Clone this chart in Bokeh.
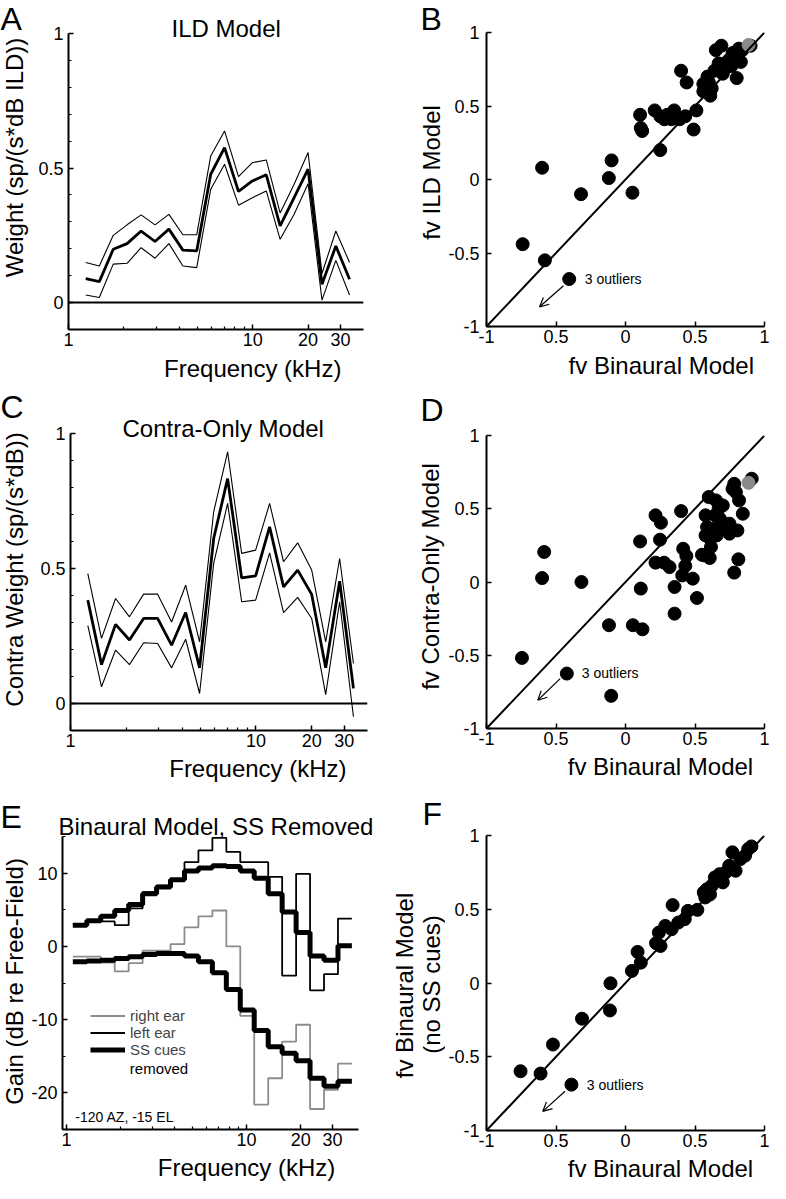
import math
from bokeh.plotting import figure
from bokeh.layouts import column, row
from bokeh.models import (Range1d, FixedTicker, Label, Span, Slope, Arrow, OpenHead,
                          Legend, LegendItem, CustomJSTickFormatter)
from bokeh.embed import file_html
from bokeh.resources import INLINE

FONT = "Liberation Sans"

# ---------------- data ----------------
freq_khz = [1.24, 1.47, 1.75, 2.08, 2.48, 2.95, 3.51, 4.18, 4.97, 5.92,
            7.04, 8.38, 9.97, 11.86, 14.1, 16.8, 20.0, 23.8, 28.3, 33.6]

ild_mean = [0.089, 0.078, 0.198, 0.219, 0.266, 0.227, 0.273, 0.195, 0.192, 0.477,
            0.576, 0.413, 0.452, 0.475, 0.285, 0.39, 0.496, 0.068, 0.21, 0.087]
ild_upper = [0.149, 0.136, 0.25, 0.289, 0.326, 0.289, 0.328, 0.252, 0.252, 0.545,
             0.638, 0.468, 0.52, 0.53, 0.333, 0.44, 0.558, 0.108, 0.266, 0.149]
ild_lower = [0.028, 0.019, 0.143, 0.146, 0.204, 0.165, 0.219, 0.136, 0.13, 0.421,
             0.514, 0.362, 0.39, 0.415, 0.235, 0.328, 0.442, 0.009, 0.157, 0.028]

contra_mean = [0.383, 0.144, 0.293, 0.235, 0.315, 0.315, 0.216, 0.337, 0.132, 0.611,
               0.833, 0.465, 0.473, 0.654, 0.432, 0.494, 0.404, 0.132, 0.453, 0.056]
contra_upper = [0.481, 0.241, 0.389, 0.321, 0.405, 0.405, 0.302, 0.438, 0.228, 0.71,
                0.932, 0.556, 0.568, 0.741, 0.525, 0.595, 0.494, 0.228, 0.537, 0.148]
contra_lower = [0.288, 0.062, 0.198, 0.144, 0.225, 0.222, 0.132, 0.238, 0.037, 0.519,
                0.741, 0.377, 0.383, 0.558, 0.337, 0.393, 0.315, 0.033, 0.377, -0.049]

# panel E: bin edges (kHz) and gains (dB)
bin_edges_khz = [1.084, 1.296, 1.549, 1.852, 2.214, 2.646, 3.162, 3.78, 4.518, 5.40, 6.455,
                 7.716, 9.22, 11.02, 13.18, 15.75, 18.83, 22.5, 26.9, 32.15, 38.4]
left_ear_db = [3.0, 3.5, 3.4, 2.9, 5.2, 7.4, 8.3, 9.0, 11.5, 13.1,
               14.8, 12.9, 11.5, 11.5, 9.5, -4.0, 9.9, -6.0, -3.8, 3.8]
right_ear_db = [-1.4, -1.4, -2.2, -3.4, -2.3, -0.6, -0.6, 0.3, 2.6, 4.1,
                4.9, 0.0, -9.5, -21.6, -18.0, -13.0, -10.7, -22.2, -19.6, -16.0]
left_ss_removed_db = [2.9, 3.5, 4.1, 4.9, 5.7, 7.2, 8.1, 9.1, 10.3, 10.7,
                      11.0, 10.9, 10.3, 9.3, 7.2, 4.7, 1.9, -1.3, -1.9, 0.1]
right_ss_removed_db = [-2.1, -2.0, -1.9, -1.65, -1.4, -1.1, -0.96, -0.96, -1.3, -2.1,
                       -3.6, -5.9, -8.7, -11.5, -13.7, -14.6, -15.6, -18.0, -19.1, -18.4]

# panel B: fv binaural vs fv ILD
b_x = [-0.74, -0.58, -0.60, -0.32, -0.12, -0.10, 0.05, 0.105, 0.11, 0.12,
       0.21, 0.25, 0.30, 0.35, 0.33, 0.39, 0.43, 0.51, 0.49, 0.25,
       0.40, 0.44, 0.56, 0.59, 0.56, 0.61, 0.62, 0.65, 0.69, 0.67,
       0.70, 0.74, 0.77, 0.76, 0.80, 0.815, 0.83, 0.84, 0.60, 0.68,
       0.72, 0.78, 0.90, 0.36, 0.64, 0.28]
b_y = [-0.44, -0.55, 0.08, -0.10, 0.01, 0.13, -0.09, 0.44, 0.35, 0.33,
       0.47, 0.43, 0.44, 0.47, 0.41, 0.41, 0.43, 0.47, 0.34, 0.20,
       0.74, 0.66, 0.65, 0.70, 0.60, 0.57, 0.62, 0.88, 0.91, 0.79,
       0.72, 0.81, 0.86, 0.77, 0.69, 0.89, 0.80, 0.88, 0.66, 0.75,
       0.78, 0.83, 0.91, 0.42, 0.74, 0.41]
b_gray_x = [0.885]
b_gray_y = [0.915]

# panel D: fv binaural vs fv contra-only
d_x = [-0.745, -0.585, -0.60, -0.317, -0.119, -0.103, 0.053, 0.122, 0.11, 0.105,
       0.216, 0.255, 0.248, 0.216, 0.278, 0.317, 0.353, 0.353, 0.40, 0.415,
       0.438, 0.43, 0.408, 0.484, 0.514, 0.55, 0.599, 0.651, 0.70, 0.576,
       0.644, 0.679, 0.587, 0.633, 0.576, 0.61, 0.656, 0.564, 0.606, 0.615,
       0.748, 0.748, 0.805, 0.844, 0.782, 0.794, 0.817, 0.77, 0.908, 0.812,
       0.782, 0.725, 0.67, 0.68]
d_y = [-0.518, 0.205, 0.027, 0.0, -0.295, -0.777, -0.295, -0.323, -0.045, 0.277,
       0.455, 0.405, 0.289, 0.132, 0.132, 0.102, -0.034, -0.216, 0.484, 0.227,
       0.177, 0.11, 0.045, 0.023, -0.109, 0.186, 0.58, 0.557, 0.523, 0.455,
       0.455, 0.432, 0.375, 0.364, 0.318, 0.295, 0.318, 0.182, 0.164, 0.239,
       0.398, 0.33, 0.352, 0.466, 0.67, 0.614, 0.557, 0.636, 0.705, 0.155,
       0.064, 0.386, 0.50, 0.36]
d_gray_x = [0.885]
d_gray_y = [0.677]

# panel F: fv binaural vs fv binaural without SS cues
f_x = [-0.755, -0.611, -0.522, -0.313, -0.108, -0.112, 0.046, 0.087, 0.11, 0.24,
       0.252, 0.286, 0.339, 0.332, 0.38, 0.426, 0.449, 0.517, 0.563, 0.586,
       0.62, 0.643, 0.677, 0.70, 0.746, 0.769, 0.792, 0.826, 0.86, 0.883,
       0.906, 0.574, 0.608, 0.72, 0.22]
f_y = [-0.598, -0.614, -0.417, -0.242, -0.002, -0.186, 0.082, 0.211, 0.138, 0.342,
       0.251, 0.387, 0.528, 0.365, 0.41, 0.433, 0.489, 0.496, 0.614, 0.636,
       0.659, 0.716, 0.738, 0.682, 0.795, 0.886, 0.761, 0.84, 0.863, 0.908,
       0.926, 0.58, 0.60, 0.75, 0.27]

# "3 outliers" marker and arrow (start x, start y, end x, end y)
outlier_B = [-0.405, -0.677]
outlier_D = [-0.422, -0.625]
outlier_F = [-0.389, -0.689]
arrow_B = [-0.446, -0.723, -0.618, -0.866]
arrow_D = [-0.47, -0.66, -0.631, -0.807]
arrow_F = [-0.435, -0.734, -0.595, -0.87]

log_major = [1, 10, 20, 30]
log_minor = [2, 3, 4, 5, 6, 7, 8, 9]
fv_ticks = [-1, -0.5, 0, 0.5, 1]

HALF_PI = math.pi / 2
PANEL_W = 385
AX_BOTTOM = 24      # room under each frame for the tick labels
MID = 0.35          # caps centre above the baseline, in em


# ---------------- helpers ----------------
def make_fig(wl, hm, left, right, top, xr, yr, xlog=False):
    """Main axes figure; sits right of a text column of width wl."""
    w = PANEL_W - wl
    p = figure(width=w, height=hm, x_axis_type="log" if xlog else "linear",
               x_range=Range1d(*xr), y_range=Range1d(*yr),
               output_backend="svg", toolbar_location=None,
               min_border_left=left - wl, min_border_right=right,
               min_border_top=top, min_border_bottom=AX_BOTTOM)
    p.outline_line_color = None
    p.grid.visible = False
    p.background_fill_color = "white"
    p.border_fill_color = "white"
    for ax in (p.xaxis[0], p.yaxis[0]):
        ax.axis_line_width = 2
        ax.axis_line_color = "black"
        ax.major_tick_in = 5
        ax.major_tick_out = 0
        ax.minor_tick_in = 3
        ax.minor_tick_out = 0
        ax.major_tick_line_width = 1.5
        ax.minor_tick_line_width = 1.2
        ax.major_tick_line_color = "black"
        ax.minor_tick_line_color = "black"
        ax.major_label_text_font = FONT
        ax.major_label_text_font_size = "18px"
        ax.major_label_text_color = "black"
        ax.formatter = CustomJSTickFormatter(code="return String(tick);")
    p.xaxis.major_label_standoff = 3
    geom = (left, top, PANEL_W - left - right, hm - top - AX_BOTTOM, xr, yr, xlog)
    return p, geom


def text_fig(x0, y0, w, h, items):
    """Plain text area covering panel pixels [x0, x0+w] x [y0, y0+h] (y downward).
    items: (x, baseline, text, size, rotated, align)"""
    s = figure(width=w, height=h, x_range=Range1d(x0, x0 + w), y_range=Range1d(-(y0 + h), -y0),
               output_backend="svg", toolbar_location=None,
               x_axis_location=None, y_axis_location=None,
               min_border_left=0, min_border_right=0, min_border_top=0, min_border_bottom=0)
    s.outline_line_color = None
    s.grid.visible = False
    s.background_fill_color = "white"
    s.border_fill_color = "white"
    for (x, y, txt, size, rotated, align) in items:
        if rotated:
            x, angle = x - MID * size, HALF_PI
        else:
            y, angle = y - MID * size, 0.0
        s.add_layout(Label(x=x, y=-y, text=txt, text_font=FONT, text_font_size=f"{size}px",
                           text_align=align, text_baseline="middle", angle=angle,
                           text_color="black"))
    return s


def set_title(p, txt, offset, standoff):
    p.title.text = txt
    p.title.align = "left"
    p.title.offset = offset
    p.title.standoff = standoff
    p.title.text_font = FONT
    p.title.text_font_size = "24px"
    p.title.text_font_style = "normal"
    p.title.text_color = "black"


def to_data(g, fx, fy):
    left, top, fw, fh, xr, yr, xlog = g
    tx = (fx - left) / fw
    ty = (top + fh - fy) / fh
    if xlog:
        lx0, lx1 = math.log10(xr[0]), math.log10(xr[1])
        x = 10 ** (lx0 + tx * (lx1 - lx0))
    else:
        x = xr[0] + tx * (xr[1] - xr[0])
    y = yr[0] + ty * (yr[1] - yr[0])
    return x, y


def text(p, g, fx, baseline, s, size, align="left"):
    x, y = to_data(g, fx, baseline - MID * size)
    p.add_layout(Label(x=x, y=y, text=s, text_font=FONT, text_font_size=f"{size}px",
                       text_align=align, text_baseline="middle", text_color="black"))


def band_panel(p, mean, upper, lower):
    p.line(freq_khz, upper, line_color="black", line_width=1.1)
    p.line(freq_khz, lower, line_color="black", line_width=1.1)
    p.line(freq_khz, mean, line_color="black", line_width=2.8)
    p.add_layout(Span(location=0, dimension="width", line_color="black", line_width=2))
    p.xaxis.ticker = FixedTicker(ticks=log_major, minor_ticks=log_minor)
    p.yaxis.ticker = FixedTicker(ticks=[0, 0.5, 1],
                                 minor_ticks=[-0.1, 0.1, 0.2, 0.3, 0.4, 0.6, 0.7, 0.8, 0.9])
    p.yaxis.major_label_standoff = 5


def scatter_panel(p, g, xs, ys, gx, gy, marker, arr, txt_pos):
    p.add_layout(Slope(gradient=1, y_intercept=0, line_color="black", line_width=2))
    p.scatter(xs, ys, size=13, color="black")
    if gx:
        p.scatter(gx, gy, size=13, color="#8a8a8a")
    p.scatter([marker[0]], [marker[1]], size=13, color="black")
    p.add_layout(Arrow(end=OpenHead(size=9, line_width=1.2, line_color="black"),
                       x_start=arr[0], y_start=arr[1], x_end=arr[2], y_end=arr[3],
                       line_width=1.2, line_color="black"))
    text(p, g, txt_pos[0], txt_pos[1], "3 outliers", 14)
    p.xaxis.ticker = FixedTicker(ticks=fv_ticks)
    p.yaxis.ticker = FixedTicker(ticks=fv_ticks)
    p.xaxis.formatter = CustomJSTickFormatter(code="return tick == -0.5 ? '0.5' : String(tick);")
    p.yaxis.major_label_standoff = 7


def assemble(wl, h, hm, main, side_items, foot_items):
    side = text_fig(0, 0, wl, h, side_items)
    foot = text_fig(wl, hm, PANEL_W - wl, h - hm, foot_items)
    return row(side, column(main, foot))


H1, H2, H3 = 388, 395, 399
WR = 60   # text column width of the right-hand panels

# ---------------- panel A ----------------
pA, gA = make_fig(30, 353, 68, 22, 33, (1, 40), (-0.1, 1), xlog=True)
band_panel(pA, ild_mean, ild_upper, ild_lower)
set_title(pA, "ILD Model", 103, -16)
panelA = assemble(30, H1, 353, pA,
                  [(0, 29.5, "A", 32, False, "left"),
                   (22, 157, "Weight (sp/(s*dB ILD))", 24, True, "center")],
                  [(145, 376, "Frequency (kHz)", 24, False, "left")])

# ---------------- panel B ----------------
pB, gB = make_fig(WR, 350, 99, 6, 32, (-1, 1), (-1, 1))
scatter_panel(pB, gB, b_x, b_y, b_gray_x, b_gray_y, outlier_B, arrow_B, (198, 283))
panelB = assemble(WR, H1, 350, pB,
                  [(35, 29.5, "B", 32, False, "left"),
                   (54.5, 172, "fv ILD Model", 24, True, "center")],
                  [(156, 373, "fv Binaural Model", 24, False, "left")])

# ---------------- panel C ----------------
pC, gC = make_fig(30, 366, 70, 18, 45, (1, 40), (-0.1, 1), xlog=True)
band_panel(pC, contra_mean, contra_upper, contra_lower)
set_title(pC, "Contra-Only Model", 52, -16)
panelC = assemble(30, H2, 366, pC,
                  [(0, 29.5, "C", 32, False, "left"),
                   (22, 181, "Contra Weight (sp/(s*dB))", 24, True, "center")],
                  [(148, 388.8, "Frequency (kHz)", 24, False, "left")])

# ---------------- panel D ----------------
pD, gD = make_fig(WR, 364, 99, 6, 47, (-1, 1), (-1, 1))
scatter_panel(pD, gD, d_x, d_y, d_gray_x, d_gray_y, outlier_D, arrow_D, (195, 289))
panelD = assemble(WR, H2, 364, pD,
                  [(35, 33, "D", 32, False, "left"),
                   (53, 188, "fv Contra-Only Model", 24, True, "center")],
                  [(155, 386.5, "fv Binaural Model", 24, False, "left")])

# ---------------- panel E ----------------
pE, gE = make_fig(28, 370, 59, 27, 53, (0.95, 41.8), (-25, 15), xlog=True)
r_right = pE.step(bin_edges_khz, right_ear_db + right_ear_db[-1:], mode="after",
                  line_color="#8c8c8c", line_width=1.8)
r_left = pE.step(bin_edges_khz, left_ear_db + left_ear_db[-1:], mode="after",
                 line_color="black", line_width=1.8)
r_ssl = pE.step(bin_edges_khz, left_ss_removed_db + left_ss_removed_db[-1:], mode="after",
                line_color="black", line_width=5)
r_ssr = pE.step(bin_edges_khz, right_ss_removed_db + right_ss_removed_db[-1:], mode="after",
                line_color="black", line_width=5)
pE.xaxis.ticker = FixedTicker(ticks=log_major, minor_ticks=log_minor)
pE.yaxis.ticker = FixedTicker(ticks=[-20, -10, 0, 10], minor_ticks=[-25, -15, -5, 5, 15])
pE.yaxis.major_label_standoff = 5
legend = Legend(items=[LegendItem(label="right ear", renderers=[r_right]),
                       LegendItem(label="left ear", renderers=[r_left]),
                       LegendItem(label="SS cues", renderers=[r_ssl])],
                location=(28, 71), padding=0, margin=0, spacing=0,
                glyph_width=35, glyph_height=15, label_height=15, label_standoff=5,
                label_text_font=FONT, label_text_font_size="15px",
                background_fill_alpha=0, border_line_color=None)
pE.add_layout(legend)
text(pE, gE, 127, 290, "removed", 15)
text(pE, gE, 72, 338, "-120 AZ, -15 EL", 14)
set_title(pE, "Binaural Model, SS Removed", -4, -6)
panelE = assemble(28, H3, 370, pE,
                  [(0, 45, "E", 32, False, "left"),
                   (22, 198, "Gain (dB re Free-Field)", 24, True, "center")],
                  [(143, 392.8, "Frequency (kHz)", 24, False, "left")])

# ---------------- panel F ----------------
pF, gF = make_fig(WR, 371, 99, 6, 52, (-1, 1), (-1, 1))
scatter_panel(pF, gF, f_x, f_y, [], [], outlier_F, arrow_F, (200, 306))
panelF = assemble(WR, H3, 371, pF,
                  [(37, 42, "F", 32, False, "left"),
                   (27, 202, "fv Binaural Model", 24, True, "center"),
                   (54.5, 201, "(no SS cues)", 24, True, "center")],
                  [(155, 393.3, "fv Binaural Model", 24, False, "left")])

layout = column(row(panelA, panelB), row(panelC, panelD), row(panelE, panelF))
open("out.html", "w").write(file_html(layout, INLINE))
